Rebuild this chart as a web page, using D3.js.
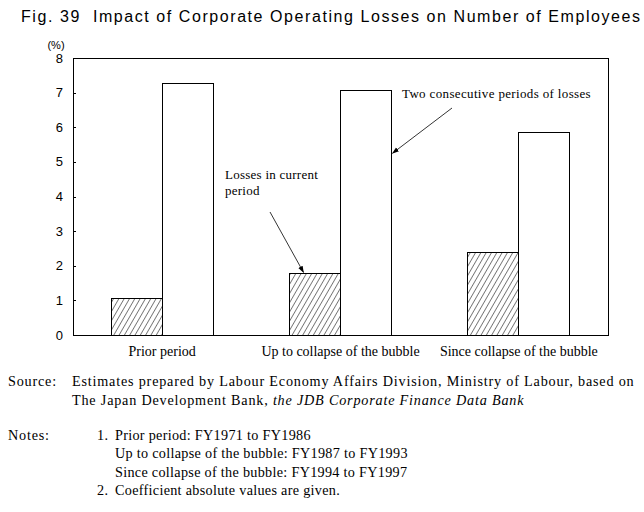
<!DOCTYPE html>
<html>
<head>
<meta charset="utf-8">
<script src="https://cdn.jsdelivr.net/npm/d3@7"></script>
<style>
  html, body { margin: 0; padding: 0; background: #fff; }
  svg { display: block; }
  .serif { font-family: "Liberation Serif", "Times New Roman", serif; }
  .sans { font-family: "Liberation Sans", Arial, sans-serif; }
</style>
</head>
<body>
<svg id="chart" width="644" height="512"></svg>
<script>
// ---- data ----
const categories = ["Prior period", "Up to collapse of the bubble", "Since collapse of the bubble"];
const seriesNames = ["Losses in current period", "Two consecutive periods of losses"];
const lossesCurrent = [1.06, 1.78, 2.39];
const lossesConsecutive = [7.27, 7.06, 5.86];
const yTicks = [0, 1, 2, 3, 4, 5, 6, 7, 8];
const title = "Fig. 39  Impact of Corporate Operating Losses on Number of Employees";
const sourceLines = [
  ["Estimates prepared by Labour Economy Affairs Division, Ministry of Labour, based on"],
  ["The Japan Development Bank, ", "the JDB Corporate Finance Data Bank"]
];
const noteLines = [
  ["1.", "Prior period: FY1971 to FY1986"],
  ["", "Up to collapse of the bubble: FY1987 to FY1993"],
  ["", "Since collapse of the bubble: FY1994 to FY1997"],
  ["2.", "Coefficient absolute values are given."]
];

const svg = d3.select("#chart");
const W = 644, H = 512;
svg.append("rect").attr("width", W).attr("height", H).attr("fill", "#fff");

const plot = { left: 73, right: 608, top: 58, bottom: 335 };

// hatch pattern
const defs = svg.append("defs");
defs.append("pattern")
  .attr("id", "hatch")
  .attr("patternUnits", "userSpaceOnUse")
  .attr("width", 4.6).attr("height", 10)
  .attr("patternTransform", "rotate(30)")
  .append("line")
  .attr("x1", 0).attr("y1", -2).attr("x2", 0).attr("y2", 12)
  .attr("stroke", "#000").attr("stroke-width", 1);

defs.append("marker")
  .attr("id", "arrow")
  .attr("viewBox", "0 0 10 10")
  .attr("refX", 9).attr("refY", 5)
  .attr("markerWidth", 7).attr("markerHeight", 7)
  .attr("markerUnits", "userSpaceOnUse")
  .attr("orient", "auto")
  .append("path")
  .attr("d", "M0,1.5 L10,5 L0,8.5 Z")
  .attr("fill", "#000");

// title
svg.append("text")
  .attr("class", "sans")
  .attr("x", 21).attr("y", 22)
  .attr("font-size", 16)
  .attr("textLength", 619)
  .attr("lengthAdjust", "spacing")
  .attr("xml:space", "preserve")
  .style("white-space", "pre")
  .attr("fill", "#000")
  .text(title);

// scales
const x = d3.scaleBand().domain(categories).range([plot.left, plot.right]).padding(0);
const barW = 51;
const x1 = d3.scaleBand().domain(seriesNames)
  .range([x.bandwidth() / 2 - barW, x.bandwidth() / 2 + barW]).padding(0);
const y = d3.scaleLinear().domain([0, 8]).range([plot.bottom, plot.top]);

// bars
const rows = categories.map((c, i) => ({ c, vals: [lossesCurrent[i], lossesConsecutive[i]] }));
const g = svg.append("g").selectAll("g").data(rows).join("g")
  .attr("transform", d => `translate(${x(d.c)},0)`);
g.selectAll("rect").data(d => d.vals.map((v, j) => ({ v, s: seriesNames[j] }))).join("rect")
  .attr("x", d => x1(d.s))
  .attr("y", d => y(d.v))
  .attr("width", x1.bandwidth())
  .attr("height", d => y(0) - y(d.v))
  .attr("fill", d => d.s === seriesNames[0] ? "url(#hatch)" : "#fff")
  .attr("stroke", "#000").attr("stroke-width", 1)
  .attr("shape-rendering", "crispEdges");

// frame
svg.append("rect")
  .attr("x", plot.left).attr("y", plot.top)
  .attr("width", plot.right - plot.left).attr("height", plot.bottom - plot.top)
  .attr("fill", "none").attr("stroke", "#000").attr("stroke-width", 1)
  .attr("shape-rendering", "crispEdges");

// y axis (inward ticks)
const yAxis = d3.axisRight(y).tickValues(yTicks).tickSize(3).tickFormat("");
const yg = svg.append("g").attr("transform", `translate(${plot.left},0)`).call(yAxis);
yg.select(".domain").remove();
yg.selectAll("line").attr("stroke", "#000").attr("shape-rendering", "crispEdges");

svg.append("g").selectAll("text").data(yTicks).join("text")
  .attr("class", "sans")
  .attr("x", plot.left - 10).attr("y", d => y(d))
  .attr("dy", "0.35em")
  .attr("text-anchor", "end")
  .attr("font-size", 13)
  .text(d => d);

svg.append("text").attr("class", "sans")
  .attr("x", 56).attr("y", 49)
  .attr("text-anchor", "middle")
  .attr("font-size", 11)
  .text("(%)");

// category labels
svg.append("g").selectAll("text").data(categories).join("text")
  .attr("class", "serif")
  .attr("x", d => x(d) + x.bandwidth() / 2)
  .attr("y", 356)
  .attr("text-anchor", "middle")
  .attr("font-size", 14)
  .text(d => d);

// annotations
svg.append("text").attr("class", "serif")
  .attr("x", 402).attr("y", 98).attr("font-size", 13)
  .attr("letter-spacing", 0.35)
  .text("Two consecutive periods of losses");
svg.append("line")
  .attr("x1", 452).attr("y1", 108)
  .attr("x2", x(categories[1]) + x1(seriesNames[1]) + x1.bandwidth() + 1)
  .attr("y2", y(5.25))
  .attr("stroke", "#000").attr("stroke-width", 0.8)
  .attr("marker-end", "url(#arrow)");

svg.append("text").attr("class", "serif")
  .attr("x", 225).attr("y", 179).attr("font-size", 13)
  .attr("letter-spacing", 0.25)
  .text("Losses in current");
svg.append("text").attr("class", "serif")
  .attr("x", 225).attr("y", 195).attr("font-size", 13)
  .attr("letter-spacing", 0.25)
  .text("period");
svg.append("line")
  .attr("x1", 270).attr("y1", 212)
  .attr("x2", x(categories[1]) + x1(seriesNames[0]) + 14)
  .attr("y2", y(lossesCurrent[1]) - 1)
  .attr("stroke", "#000").attr("stroke-width", 0.8)
  .attr("marker-end", "url(#arrow)");

// source & notes
const fs = 14.2;
const ls = 0.8;
const lsNotes = 0.3;
svg.append("text").attr("class", "serif").attr("x", 8).attr("y", 386)
  .attr("font-size", fs).attr("letter-spacing", ls).text("Source:");
sourceLines.forEach((parts, i) => {
  const t = svg.append("text").attr("class", "serif")
    .attr("x", 72).attr("y", 386 + i * 19).attr("font-size", fs).attr("letter-spacing", ls);
  parts.forEach((p, k) => t.append("tspan").attr("font-style", k === 1 ? "italic" : "normal").text(p));
});
svg.append("text").attr("class", "serif").attr("x", 8).attr("y", 440)
  .attr("font-size", fs).attr("letter-spacing", ls).text("Notes:");
noteLines.forEach((parts, i) => {
  const yy = 440 + i * 18.3;
  if (parts[0]) svg.append("text").attr("class", "serif").attr("x", 97).attr("y", yy)
    .attr("font-size", fs).attr("letter-spacing", lsNotes).text(parts[0]);
  svg.append("text").attr("class", "serif").attr("x", 115).attr("y", yy)
    .attr("font-size", fs).attr("letter-spacing", lsNotes).text(parts[1]);
});
</script>
</body>
</html>
